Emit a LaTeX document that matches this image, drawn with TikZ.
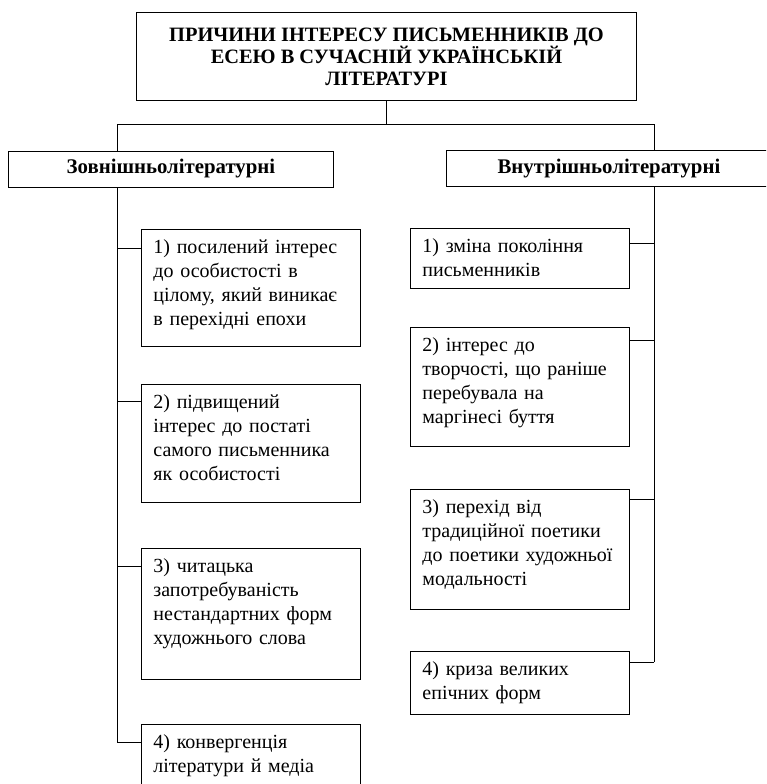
\documentclass[tikz,border=0pt]{standalone}
\usepackage{fontspec}
\setmainfont{Liberation Serif}

\begin{document}
\begin{tikzpicture}[x=1pt,y=-1pt,line width=0.9pt,
  titlebox/.style={draw,anchor=north west,minimum width=500pt,minimum height=88pt,
    inner sep=0pt,align=center,font=\fontsize{20.4}{22}\selectfont\bfseries},
  headbox/.style={draw,anchor=north west,minimum width=325pt,minimum height=36pt,
    inner sep=0pt,font=\fontsize{20.8}{24}\selectfont\bfseries},
  itembox/.style={draw,anchor=north west,text width=195pt,align=left,
    inner xsep=12pt,inner ysep=0pt,text height=24pt,text depth=#1,
    font=\fontsize{20}{24}\selectfont}]
  \useasboundingbox (0,0) rectangle (766,784);
  \clip (0,0) rectangle (766,784);

  \node[titlebox] (title) at (136,12) {ПРИЧИНИ ІНТЕРЕСУ ПИСЬМЕННИКІВ ДО\\
    ЕСЕЮ В СУЧАСНІЙ УКРАЇНСЬКІЙ\\ ЛІТЕРАТУРІ};
  \node[headbox] (lhead) at (8,150.5) {Зовнішньолітературні};
  \node[headbox] (rhead) at (446,150) {Внутрішньолітературні};

  \node[itembox=93pt] (l1) at (141,229) {1) посилений інтерес\\ до особистості в\\
    цілому, який виникає\\ в перехідні епохи};
  \node[itembox=94pt] (l2) at (141,384) {2) підвищений\\ інтерес до постаті\\
    самого письменника\\ як особистості};
  \node[itembox=107pt] (l3) at (141,548) {3) читацька\\ запотребуваність\\
    нестандартних форм\\ художнього слова};
  \node[itembox=46pt] (l4) at (141,724) {4) конвергенція\\ літератури й медіа};

  \node[itembox=36pt] (r1) at (410,228) {1) зміна покоління\\ письменників};
  \node[itembox=95pt] (r2) at (410,327) {2) інтерес до\\ творчості, що раніше\\
    перебувала на\\ маргінесі буття};
  \node[itembox=96pt] (r3) at (410,489) {3) перехід від\\ традиційної поетики\\
    до поетики художньої\\ модальності};
  \node[itembox=39pt] (r4) at (410,651) {4) криза великих\\ епічних форм};

  \coordinate (barL) at (117,124);
  \coordinate (barR) at (654,124);
  \draw (title.south) -- (title.south |- barL);
  \draw (barL) -- (barR);
  \draw (barL) -- (barL |- lhead.north);
  \draw (barR) -- (barR |- rhead.north);

  \foreach \n/\d in {1/19,2/17,3/18,4/18} {
    \coordinate (lc\n) at ([yshift=-\d pt]l\n.north west);
    \draw (barL |- lc\n) -- (lc\n);
  }
  \draw (barL |- lhead.south) -- (barL |- lc4);

  \foreach \n/\d in {1/15,2/13,3/10,4/11} {
    \coordinate (rc\n) at ([yshift=-\d pt]r\n.north east);
    \draw (barR |- rc\n) -- (rc\n);
  }
  \draw (barR |- rhead.south) -- (barR |- rc4);
\end{tikzpicture}
\end{document}
